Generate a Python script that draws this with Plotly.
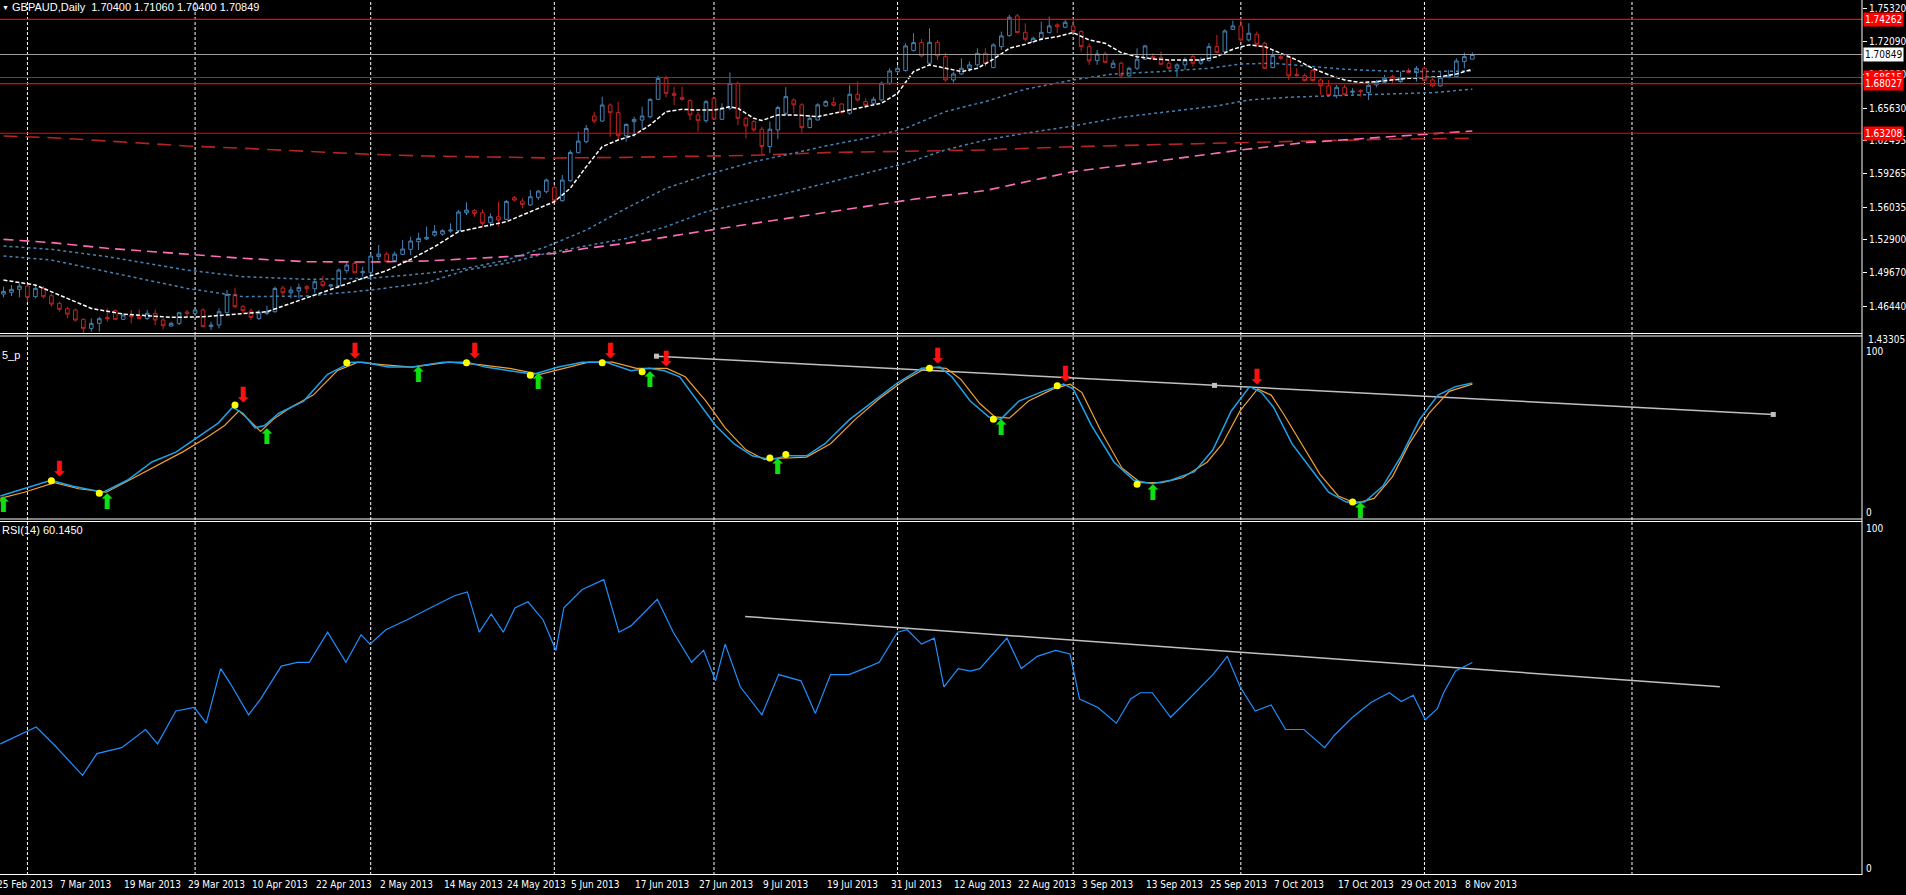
import plotly.graph_objects as go
import pandas as pd

# ---------------- categories ----------------
all_days = pd.bdate_range("2013-02-25", "2013-11-11")   # trading days shown
FIRST_BAR = -4                                          # 25 Feb 2013 relative to 1 Mar 2013
bar_pos = [k + FIRST_BAR for k in range(len(all_days))]
candle_x = bar_pos[1:]                                  # candles from 26 Feb 2013

# ---------------- OHLC (GBPAUD daily) ----------------
opens = [1.4761, 1.4778, 1.4807, 1.4839, 1.4736, 1.4816, 1.4745, 1.4671, 1.4619, 1.4607, 1.4516, 1.4428, 1.4477,
         1.4535, 1.4600, 1.4516, 1.4555, 1.4548, 1.4525, 1.4574, 1.4509, 1.4451, 1.4477,
         1.4587, 1.4574, 1.4607, 1.4445, 1.4461, 1.4580, 1.4758, 1.4639, 1.4597, 1.4525,
         1.4574, 1.4590, 1.4820, 1.4774, 1.4791, 1.4833, 1.4813, 1.4881, 1.4839, 1.4842,
         1.4988, 1.5059, 1.4968, 1.4972, 1.5124, 1.5149, 1.5085, 1.5146, 1.5195, 1.5269,
         1.5295, 1.5334, 1.5343, 1.5372, 1.5376, 1.5550, 1.5570, 1.5550, 1.5453, 1.5511,
         1.5486, 1.5696, 1.5663, 1.5625, 1.5699, 1.5754, 1.5796, 1.5667, 1.5861, 1.6132,
         1.6239, 1.6488, 1.6439, 1.6595, 1.6523, 1.6297, 1.6433, 1.6449, 1.6481, 1.6650,
         1.6853, 1.6708, 1.6669, 1.6637, 1.6498, 1.6443, 1.6660, 1.6456, 1.6562, 1.6805,
         1.6466, 1.6434, 1.6360, 1.6192, 1.6353, 1.6515, 1.6644, 1.6596, 1.6376, 1.6450,
         1.6586, 1.6618, 1.6605, 1.6515, 1.6699, 1.6628, 1.6612, 1.6644, 1.6806, 1.6919,
         1.6929, 1.7123, 1.7200, 1.7000, 1.7203, 1.7064, 1.6838, 1.6896, 1.6951, 1.6984,
         1.7097, 1.6958, 1.7161, 1.7268, 1.7459, 1.7300, 1.7210, 1.7242, 1.7297, 1.7372,
         1.7349, 1.7362, 1.7307, 1.7161, 1.7026, 1.7090, 1.6958, 1.7000, 1.6877, 1.6951,
         1.7039, 1.7064, 1.7055, 1.7000, 1.6951, 1.6984, 1.7064, 1.7000, 1.7026, 1.7161,
         1.7113, 1.7329, 1.7362, 1.7226, 1.7281, 1.7194, 1.6958, 1.7064, 1.7058, 1.6890,
         1.6880, 1.6929, 1.6838, 1.6780, 1.6686, 1.6767, 1.6719, 1.6735, 1.6715, 1.6790,
         1.6815, 1.6870, 1.6822, 1.6929, 1.6909, 1.6951, 1.6838, 1.6780, 1.6864, 1.6870,
         1.7016, 1.70400]
highs = [1.4833, 1.4849, 1.4865, 1.4858, 1.4849, 1.4839, 1.4768, 1.4687, 1.4639, 1.4622, 1.4525, 1.4525, 1.4541,
         1.4622, 1.4613, 1.4574, 1.4607, 1.4613, 1.4607, 1.4613, 1.4525, 1.4493, 1.4590,
         1.4607, 1.4622, 1.4622, 1.4493, 1.4622, 1.4800, 1.4823, 1.4655, 1.4622, 1.4607,
         1.4648, 1.4833, 1.4842, 1.4833, 1.4865, 1.4849, 1.4897, 1.4936, 1.4858, 1.5010,
         1.5075, 1.5075, 1.5027, 1.5156, 1.5237, 1.5172, 1.5172, 1.5285, 1.5318, 1.5356,
         1.5415, 1.5431, 1.5389, 1.5447, 1.5576, 1.5651, 1.5586, 1.5583, 1.5544, 1.5657,
         1.5673, 1.5712, 1.5689, 1.5770, 1.5770, 1.5883, 1.5819, 1.5916, 1.6158, 1.6336,
         1.6401, 1.6530, 1.6675, 1.6611, 1.6627, 1.6417, 1.6481, 1.6578, 1.6660, 1.6879,
         1.6879, 1.6772, 1.6772, 1.6650, 1.6530, 1.6643, 1.6669, 1.6611, 1.6911, 1.6821,
         1.6482, 1.6450, 1.6385, 1.6434, 1.6586, 1.6767, 1.6660, 1.6612, 1.6499, 1.6612,
         1.6644, 1.6670, 1.6612, 1.6790, 1.6822, 1.6660, 1.6676, 1.6822, 1.6951, 1.6983,
         1.7194, 1.7291, 1.7233, 1.7339, 1.7226, 1.7097, 1.6919, 1.7048, 1.7016, 1.7145,
         1.7145, 1.7194, 1.7307, 1.7468, 1.7478, 1.7388, 1.7258, 1.7404, 1.7452, 1.7388,
         1.7420, 1.7420, 1.7323, 1.7194, 1.7129, 1.7113, 1.7032, 1.7016, 1.6967, 1.7145,
         1.7178, 1.7097, 1.7113, 1.7032, 1.7000, 1.7058, 1.7081, 1.7058, 1.7194, 1.7275,
         1.7330, 1.7414, 1.7420, 1.7388, 1.7307, 1.7210, 1.7129, 1.7081, 1.7064, 1.6951,
         1.6903, 1.6942, 1.6854, 1.6838, 1.6790, 1.6790, 1.6757, 1.6748, 1.6822, 1.6838,
         1.6887, 1.6887, 1.6919, 1.6951, 1.6974, 1.6967, 1.6854, 1.6919, 1.6935, 1.7048,
         1.7103, 1.71060]
lows = [1.4729, 1.4742, 1.4729, 1.4687, 1.4719, 1.4719, 1.4639, 1.4590, 1.4525, 1.4493, 1.4380, 1.4396, 1.4396,
        1.4493, 1.4509, 1.4509, 1.4477, 1.4516, 1.4509, 1.4461, 1.4419, 1.4445, 1.4461,
        1.4548, 1.4548, 1.4438, 1.4412, 1.4428, 1.4574, 1.4622, 1.4574, 1.4509, 1.4509,
        1.4558, 1.4580, 1.4752, 1.4719, 1.4719, 1.4768, 1.4768, 1.4833, 1.4816, 1.4833,
        1.4962, 1.4962, 1.4930, 1.4897, 1.5091, 1.5069, 1.5075, 1.5140, 1.5140, 1.5188,
        1.5285, 1.5318, 1.5327, 1.5356, 1.5366, 1.5528, 1.5511, 1.5415, 1.5415, 1.5415,
        1.5479, 1.5657, 1.5592, 1.5615, 1.5673, 1.5738, 1.5657, 1.5657, 1.5851, 1.6126,
        1.6223, 1.6417, 1.6433, 1.6287, 1.6255, 1.6239, 1.6287, 1.6352, 1.6465, 1.6643,
        1.6669, 1.6595, 1.6637, 1.6449, 1.6336, 1.6423, 1.6449, 1.6449, 1.6546, 1.6401,
        1.6271, 1.6337, 1.6111, 1.6127, 1.6263, 1.6499, 1.6515, 1.6327, 1.6369, 1.6444,
        1.6579, 1.6579, 1.6515, 1.6499, 1.6628, 1.6563, 1.6596, 1.6628, 1.6790, 1.6890,
        1.6919, 1.7113, 1.7058, 1.6984, 1.7032, 1.6822, 1.6812, 1.6887, 1.6919, 1.6967,
        1.6967, 1.6951, 1.7129, 1.7258, 1.7291, 1.7210, 1.7194, 1.7226, 1.7291, 1.7291,
        1.7339, 1.7291, 1.7113, 1.6984, 1.6984, 1.6999, 1.6951, 1.6870, 1.6870, 1.6935,
        1.7032, 1.7032, 1.6984, 1.6935, 1.6864, 1.6935, 1.6967, 1.6984, 1.7016, 1.7097,
        1.7097, 1.7323, 1.7210, 1.7210, 1.7161, 1.6942, 1.6951, 1.7032, 1.6838, 1.6870,
        1.6822, 1.6822, 1.6693, 1.6676, 1.6660, 1.6686, 1.6693, 1.6676, 1.6644, 1.6767,
        1.6806, 1.6812, 1.6812, 1.6903, 1.6822, 1.6822, 1.6767, 1.6773, 1.6854, 1.6864,
        1.6951, 1.70400]
closes = [1.4787, 1.4807, 1.4839, 1.4729, 1.4816, 1.4736, 1.4664, 1.4613, 1.4567, 1.4509, 1.4428, 1.4477, 1.4522,
          1.4522, 1.4516, 1.4558, 1.4542, 1.4525, 1.4574, 1.4509, 1.4454, 1.4477, 1.4580,
          1.4574, 1.4607, 1.4445, 1.4461, 1.4590, 1.4758, 1.4639, 1.4600, 1.4535, 1.4580,
          1.4590, 1.4816, 1.4774, 1.4800, 1.4826, 1.4813, 1.4881, 1.4842, 1.4849, 1.4994,
          1.5043, 1.4968, 1.4978, 1.5130, 1.5149, 1.5075, 1.5149, 1.5198, 1.5276, 1.5301,
          1.5311, 1.5369, 1.5376, 1.5382, 1.5557, 1.5576, 1.5544, 1.5447, 1.5511, 1.5479,
          1.5660, 1.5673, 1.5631, 1.5705, 1.5760, 1.5867, 1.5667, 1.5867, 1.6135, 1.6245,
          1.6368, 1.6439, 1.6595, 1.6520, 1.6297, 1.6407, 1.6456, 1.6488, 1.6650, 1.6853,
          1.6708, 1.6688, 1.6650, 1.6498, 1.6443, 1.6627, 1.6459, 1.6562, 1.6805, 1.6466,
          1.6392, 1.6353, 1.6192, 1.6360, 1.6570, 1.6676, 1.6596, 1.6376, 1.6466, 1.6596,
          1.6628, 1.6592, 1.6521, 1.6699, 1.6644, 1.6592, 1.6651, 1.6806, 1.6925, 1.6951,
          1.7168, 1.7200, 1.7071, 1.7203, 1.7071, 1.6838, 1.6896, 1.6951, 1.6984, 1.7097,
          1.7000, 1.7178, 1.7265, 1.7446, 1.7297, 1.7233, 1.7242, 1.7300, 1.7362, 1.7355,
          1.7397, 1.7307, 1.7161, 1.7022, 1.7090, 1.7009, 1.7000, 1.6877, 1.6951, 1.7039,
          1.7168, 1.7048, 1.6990, 1.6951, 1.6984, 1.7032, 1.7000, 1.7032, 1.7161, 1.7106,
          1.7313, 1.7362, 1.7226, 1.7291, 1.7184, 1.6951, 1.7074, 1.7048, 1.6877, 1.6880,
          1.6832, 1.6832, 1.6780, 1.6686, 1.6767, 1.6693, 1.6728, 1.6728, 1.6786, 1.6822,
          1.6854, 1.6838, 1.6848, 1.6909, 1.6951, 1.6832, 1.6780, 1.6864, 1.6877, 1.7022,
          1.7064, 1.70849]

# ---------------- moving averages (read at bar positions) ----------------
ma_fast_x = [-3, 1, 5, 8, 12, 18, 22, 27, 30, 33, 36, 39, 42, 45, 48, 51, 54, 57, 60, 63, 66, 68, 70, 72, 74, 76,
             78, 80, 82, 84, 86, 88, 89, 91, 92, 94, 96, 99, 102, 105, 107, 109, 111, 113, 115, 117, 119, 121, 123,
             125, 127, 129, 131, 133, 135, 137, 139, 141, 143, 145, 147, 149, 151, 153, 155, 157, 159, 161, 163,
             165, 167, 169, 171, 173, 175, 177, 179, 181]
ma_fast_y = [1.4897, 1.4849, 1.4719, 1.4622, 1.4567, 1.4535, 1.4541, 1.4574, 1.4590, 1.4671, 1.4752, 1.4839, 1.4914,
             1.4988, 1.5098, 1.5221, 1.5366, 1.5415, 1.5463, 1.5560, 1.5657, 1.5787, 1.5997, 1.6191, 1.6255, 1.6304,
             1.6401, 1.6530, 1.6553, 1.6546, 1.6546, 1.6578, 1.6563, 1.6466, 1.6444, 1.6499, 1.6499, 1.6482, 1.6531,
             1.6579, 1.6612, 1.6709, 1.6919, 1.6984, 1.6951, 1.6919, 1.6951, 1.7039, 1.7145, 1.7184, 1.7233, 1.7258,
             1.7297, 1.7226, 1.7194, 1.7103, 1.7064, 1.7042, 1.7032, 1.7032, 1.7032, 1.7064, 1.7136, 1.7178, 1.7161,
             1.7097, 1.7032, 1.6951, 1.6887, 1.6838, 1.6812, 1.6822, 1.6838, 1.6854, 1.6861, 1.6870, 1.6896, 1.6942]
ma_mid_x = [-3, 3, 10, 20, 27, 35, 43, 50, 55, 60, 65, 70, 75, 80, 85, 91, 95, 100, 105, 110, 115, 120, 125, 131,
            136, 142, 148, 152, 156, 160, 165, 170, 175, 181]
ma_mid_y = [1.5227, 1.5195, 1.5124, 1.4994, 1.4930, 1.4904, 1.4914, 1.4962, 1.5011, 1.5091, 1.5221, 1.5382, 1.5593,
            1.5787, 1.5916, 1.6045, 1.6111, 1.6198, 1.6272, 1.6369, 1.6531, 1.6628, 1.6748, 1.6838, 1.6896, 1.6919,
            1.6951, 1.6993, 1.7000, 1.6974, 1.6942, 1.6925, 1.6919, 1.6925]
ma_slow_x = [-3, 3, 10, 20, 27, 35, 43, 50, 55, 60, 65, 70, 75, 80, 85, 91, 95, 100, 105, 110, 115, 120, 125, 131,
             137, 143, 149, 153, 158, 164, 170, 176, 181]
ma_slow_y = [1.5130, 1.5091, 1.4978, 1.4816, 1.4736, 1.4742, 1.4800, 1.4871, 1.4994, 1.5059, 1.5156, 1.5227, 1.5301,
             1.5415, 1.5560, 1.5670, 1.5739, 1.5836, 1.5933, 1.6030, 1.6159, 1.6256, 1.6321, 1.6392, 1.6476, 1.6531,
             1.6586, 1.6644, 1.6670, 1.6686, 1.6699, 1.6715, 1.6748]
ma_pink_x = [-3, 3, 10, 20, 27, 35, 43, 50, 55, 60, 66, 70, 75, 80, 85, 91, 111, 120, 131, 140, 152, 160, 170, 176, 181]
ma_pink_y = [1.5292, 1.5260, 1.5205, 1.5150, 1.5108, 1.5075, 1.5072, 1.5082, 1.5101, 1.5124, 1.5156, 1.5205, 1.5253,
             1.5318, 1.5376, 1.5447, 1.5681, 1.5765, 1.5949, 1.6036, 1.6159, 1.6230, 1.6282, 1.6314, 1.6343]
ma_red_x = [-3, 3, 10, 20, 27, 35, 43, 50, 60, 66, 75, 85, 91, 100, 110, 120, 131, 140, 150, 160, 170, 181]
ma_red_y = [1.6294, 1.6278, 1.6246, 1.6197, 1.6175, 1.6142, 1.6116, 1.6100, 1.6084, 1.6081, 1.6087, 1.6097, 1.6107,
            1.6133, 1.6143, 1.6159, 1.6191, 1.6208, 1.6230, 1.6246, 1.6263, 1.6272]

# ---------------- price levels / ticks ----------------
red_levels = [1.74262, 1.68615, 1.68027, 1.63208]
bid_price = 1.70849
price_ticks = [1.75320, 1.72090, 1.68860, 1.65630, 1.62495, 1.59265, 1.56035, 1.52900, 1.49670, 1.46440]
price_tick_low = 1.43305

# ---------------- stochastic ----------------
stoch_k_x = [-3.4, -0.4, 2.95, 5.7, 9.5, 12.5, 15.6, 18.6, 21.6, 23.9, 25.7, 27.0, 28.5, 29.7, 31.5, 34.6, 37.6,
             40.6, 42.1, 45.2, 48.2, 52.0, 55.1, 57.4, 60.4, 63.4, 66.5, 69.5, 72.5, 75.6, 77.9, 79.8, 81.7, 83.9,
             86.2, 88.5, 90.8, 93.1, 95.3, 97.6, 99.9, 103, 106, 109, 112, 114.3, 115.8, 118.1, 120.4, 121.9, 124.2,
             127.2, 129.8, 131.0, 133.3, 136.1, 138.6, 140.9, 143.2, 146.2, 148.5, 150.8, 153.1, 154.6, 156.1,
             158.4, 160.7, 163.0, 165.2, 167.5, 169.8, 172.1, 174.4, 176.7, 178.9, 181]
stoch_k_y = [11.4, 15.5, 20.3, 16.9, 13.5, 20.3, 30.7, 36.3, 45.9, 52.8, 61.8, 58.4, 50.1, 51.4, 58.4, 65.3, 80.5,
             87.4, 87.4, 84.6, 84.6, 87.4, 87.4, 84.6, 82.5, 80.5, 84.6, 87.4, 87.4, 82.5, 83.9, 82.5, 79.1, 65.3,
             51.4, 41.1, 34.2, 32.1, 34.2, 34.2, 41.1, 54.9, 65.3, 75.6, 83.9, 84.6, 79.1, 65.3, 56.3, 54.9, 65.3,
             70.8, 74.9, 72.2, 51.4, 30.7, 20.3, 18.3, 20.3, 25.2, 37.6, 59.7, 73.5, 70.1, 61.8, 41.1, 27.3, 13.5,
             7.9, 7.9, 17.0, 34.2, 54.9, 68.7, 73.5, 75.6]
stoch_d_x = [-3.4, -0.4, 3.4, 6.4, 9.9, 13.3, 16.3, 19.4, 22.4, 24.7, 26.5, 27.7, 29.2, 30.8, 33.0, 35.8, 38.8,
             41.4, 44.4, 48.2, 52.8, 56.6, 60.4, 64.2, 67.2, 70.3, 73.3, 76.3, 80.1, 82.4, 85.0, 87.4, 90.0, 92.3,
             94.6, 97.6, 100.6, 103.7, 106.7, 109.8, 112.8, 115.1, 116.9, 119.3, 121.2, 123.0, 125.4, 128.5, 130.6,
             132.1, 134.5, 137.1, 139.4, 142.1, 144.7, 147.8, 149.7, 151.9, 154.1, 155.8, 157.3, 159.6, 161.9,
             164.2, 166.4, 168.7, 171.0, 173.1, 175.6, 178.1, 181]
stoch_d_y = [10.0, 13.5, 19.0, 15.5, 13.5, 21.7, 29.3, 36.3, 44.5, 51.4, 59.7, 54.9, 48.0, 54.9, 61.8, 68.7, 82.5,
             87.4, 86.0, 84.6, 87.4, 86.0, 83.9, 80.5, 83.9, 87.4, 87.4, 83.9, 83.9, 79.1, 65.3, 50.1, 37.6, 32.1,
             32.8, 33.5, 41.1, 54.9, 66.6, 77.0, 84.6, 83.9, 77.7, 63.9, 56.3, 55.6, 65.3, 72.2, 74.9, 70.1, 48.0,
             27.3, 19.0, 19.0, 21.7, 30.7, 41.1, 59.7, 72.2, 68.7, 58.4, 41.1, 23.8, 11.4, 7.2, 10.0, 22.4, 41.1,
             58.4, 70.8, 74.9]
sell_x = [4, 27, 41, 56, 73, 80, 114, 130, 154]
sell_y = [20, 62, 87, 87, 87, 82, 84, 74, 72]
buy_x = [-3, 10, 30, 49, 64, 78, 94, 122, 141, 167]
buy_y = [11, 13, 50, 85, 81, 82, 33, 55, 18, 8]
dot_x = [3, 9, 26, 40, 55, 63, 72, 77, 93, 95, 113, 121, 129, 139, 166]
dot_y = [20, 13, 63, 87, 87, 80, 87, 82, 33, 35, 84, 55, 74, 18, 8]
stoch_trend_x = [78.8, 148.7, 218.7]
stoch_trend_y = [90.8, 74.2, 57.7]

# ---------------- RSI(14) ----------------
rsi_x = [-3.4, 1.1, 3.4, 6.9, 8.7, 11.8, 14.8, 16.3, 18.6, 20.9, 22.4, 24.2, 25.4, 27.7, 29.2, 31.8, 33.8, 35.3,
         37.6, 39.9, 41.8, 42.9, 44.9, 47.5, 50.5, 53.5, 55.1, 56.6, 58.1, 59.6, 61.1, 62.7, 64.6, 66.2, 67.2, 69.5,
         72.2, 74.1, 75.6, 77.1, 78.9, 80.9, 83.2, 84.7, 86.2, 87.4, 89.3, 92.0, 94.1, 96.9, 98.7, 100.6, 102.9,
         104.8, 106.7, 109.0, 110.2, 112.0, 113.6, 114.8, 116.6, 118.1, 119.3, 122.7, 124.5, 126.5, 128.8, 130.6,
         131.8, 134.1, 136.4, 138.2, 139.4, 140.9, 143.2, 145.5, 147.0, 148.5, 150.3, 151.9, 153.8, 155.8, 157.6,
         159.9, 162.5, 163.7, 166.0, 168.3, 170.6, 172.1, 173.6, 175.1, 176.6, 177.4, 178.9, 181]
rsi_y = [36.9, 41.7, 36.5, 27.9, 34.1, 35.8, 41.0, 36.9, 46.3, 47.3, 42.8, 58.4, 54.2, 45.2, 49.7, 59.1, 60.2, 60.2,
         68.8, 60.2, 68.1, 65.4, 69.5, 72.3, 75.8, 79.2, 80.3, 68.8, 74.0, 68.8, 75.8, 77.5, 72.3, 63.6, 75.8, 81.0,
         83.8, 68.8, 70.6, 74.0, 78.2, 68.8, 60.2, 63.6, 54.9, 65.4, 53.2, 45.2, 56.7, 54.9, 45.6, 56.7, 56.7, 58.4,
         60.2, 68.8, 69.5, 65.4, 67.1, 53.2, 58.4, 57.7, 58.4, 67.1, 58.4, 61.9, 63.6, 62.6, 49.7, 47.3, 42.8, 49.7,
         51.5, 51.5, 44.5, 49.7, 53.2, 56.7, 61.9, 53.2, 46.3, 48.0, 41.0, 41.0, 35.8, 39.3, 44.5, 48.7, 51.5, 49.0,
         50.8, 43.8, 46.9, 51.5, 57.7, 60.145]
rsi_trend_x = [89.9, 212.0]
rsi_trend_y = [73.3, 53.2]

# ---------------- time-axis labels ----------------
date_labels = ["25 Feb 2013", "7 Mar 2013", "19 Mar 2013", "29 Mar 2013", "10 Apr 2013", "22 Apr 2013",
               "2 May 2013", "14 May 2013", "24 May 2013", "5 Jun 2013", "17 Jun 2013", "27 Jun 2013",
               "9 Jul 2013", "19 Jul 2013", "31 Jul 2013", "12 Aug 2013", "22 Aug 2013", "3 Sep 2013",
               "13 Sep 2013", "25 Sep 2013", "7 Oct 2013", "17 Oct 2013", "29 Oct 2013", "8 Nov 2013"]
future_separator = "2013-12-01"

# ---------------- derived positions ----------------
day_list = list(all_days)
label_pos = [bar_pos[day_list.index(pd.to_datetime(s, format="%d %b %Y"))] for s in date_labels]
month_lines = [bar_pos[k] for k in range(1, len(day_list)) if day_list[k].month != day_list[k - 1].month]
month_lines.append(bar_pos[-1] + (pd.Timestamp(future_separator) - day_list[-1]).days)

# ---------------- layout geometry ----------------
W, H = 1906, 895
ML, MR, MT, MB = 0, 40, 0, 20
PH = H - MT - MB          # 875
PW = W - ML - MR          # 1866


def py(px):
    return 1 - px / PH


XR = [(0 - 27.5) / 8, (PW - 27.5) / 8]


def px_of_bar(b):
    return (b - XR[0]) / (XR[1] - XR[0])


FONT = "Liberation Sans Narrow, DejaVu Sans Condensed, Liberation Sans, Arial, sans-serif"
FONT2 = "Liberation Sans, DejaVu Sans, Arial, sans-serif"
BLUE = "#4682B4"
RED = "#C42222"

fig = go.Figure()

fig.add_trace(go.Candlestick(
    x=candle_x, open=opens, high=highs, low=lows, close=closes,
    increasing=dict(line=dict(color=BLUE, width=1), fillcolor="black"),
    decreasing=dict(line=dict(color=RED, width=1), fillcolor="black"),
    whiskerwidth=0, xaxis="x", yaxis="y", showlegend=False, hoverinfo="skip"))

fig.add_trace(go.Scatter(x=ma_red_x, y=ma_red_y, mode="lines", xaxis="x", yaxis="y",
                         line=dict(color="#B42424", width=1.6, dash="14px,8px"), showlegend=False))
fig.add_trace(go.Scatter(x=ma_pink_x, y=ma_pink_y, mode="lines", xaxis="x", yaxis="y",
                         line=dict(color="#FF6EB4", width=1.6, dash="10px,6px"), showlegend=False))
fig.add_trace(go.Scatter(x=ma_slow_x, y=ma_slow_y, mode="lines", xaxis="x", yaxis="y",
                         line=dict(color=BLUE, width=1.5, dash="3px,3px"), showlegend=False))
fig.add_trace(go.Scatter(x=ma_mid_x, y=ma_mid_y, mode="lines", xaxis="x", yaxis="y",
                         line=dict(color=BLUE, width=1.5, dash="3px,3px"), showlegend=False))
fig.add_trace(go.Scatter(x=ma_fast_x, y=ma_fast_y, mode="lines", xaxis="x", yaxis="y",
                         line=dict(color="white", width=1.5, dash="4px,2px"), showlegend=False))

# stochastic panel
fig.add_trace(go.Scatter(x=stoch_trend_x, y=stoch_trend_y, mode="lines+markers", xaxis="x2", yaxis="y2",
                         line=dict(color="#C0C0C0", width=1.5),
                         marker=dict(symbol="square", size=5, color="#C0C0C0"), showlegend=False))
fig.add_trace(go.Scatter(x=stoch_d_x, y=stoch_d_y, mode="lines", xaxis="x2", yaxis="y2",
                         line=dict(color="#F0A030", width=1.2), showlegend=False))
fig.add_trace(go.Scatter(x=stoch_k_x, y=stoch_k_y, mode="lines", xaxis="x2", yaxis="y2",
                         line=dict(color="#1FA2E8", width=1.5), showlegend=False))
fig.add_trace(go.Scatter(x=dot_x, y=dot_y, mode="markers", xaxis="x2", yaxis="y2",
                         marker=dict(color="#FFFF00", size=7), showlegend=False))
fig.add_trace(go.Scatter(x=sell_x, y=sell_y, mode="text", xaxis="x2", yaxis="y2", text=["\u2B07"] * len(sell_x),
                         textposition="top center",
                         textfont=dict(color="#FF1010", size=21, family="DejaVu Sans"), showlegend=False))
fig.add_trace(go.Scatter(x=buy_x, y=buy_y, mode="text", xaxis="x2", yaxis="y2", text=["\u2B06"] * len(buy_x),
                         textposition="bottom center",
                         textfont=dict(color="#10E010", size=21, family="DejaVu Sans"), showlegend=False))

# RSI panel
fig.add_trace(go.Scatter(x=rsi_trend_x, y=rsi_trend_y, mode="lines", xaxis="x3", yaxis="y3",
                         line=dict(color="#C0C0C0", width=1.5), showlegend=False))
fig.add_trace(go.Scatter(x=rsi_x, y=rsi_y, mode="lines", xaxis="x3", yaxis="y3",
                         line=dict(color="#1E90FF", width=1.2), showlegend=False))

shapes = []
for m in month_lines:
    shapes.append(dict(type="line", xref="x", yref="paper", x0=m, x1=m, y0=0, y1=1, layer="below",
                       line=dict(color="white", width=1, dash="3px,2px")))
for lv in red_levels:
    shapes.append(dict(type="line", xref="paper", yref="y", x0=0, x1=1, y0=lv, y1=lv,
                       line=dict(color="#FF0000", width=1.2)))
shapes.append(dict(type="line", xref="paper", yref="y", x0=0, x1=1, y0=bid_price, y1=bid_price,
                   line=dict(color="#A0A0A0", width=1)))
for pxl in [333.5, 336, 519, 521.5, 874.5]:
    shapes.append(dict(type="line", xref="paper", yref="paper", x0=0, x1=1, y0=py(pxl), y1=py(pxl),
                       line=dict(color="white", width=1)))
shapes.append(dict(type="line", xref="paper", yref="paper", x0=1, x1=1, y0=0, y1=1,
                   line=dict(color="white", width=1)))

annotations = []
annotations.append(dict(xref="paper", yref="paper", x=0, y=1, xanchor="left", yanchor="top", showarrow=False,
                        text="\u25BC", font=dict(color="white", size=7, family=FONT2), yshift=-2))
annotations.append(dict(xref="paper", yref="paper", x=10 / PW, y=1, xanchor="left", yanchor="top",
                        showarrow=False, text="GBPAUD,Daily  1.70400 1.71060 1.70400 1.70849",
                        font=dict(color="white", size=11, family=FONT2), yshift=1))
annotations.append(dict(xref="paper", yref="paper", x=0, y=py(347), xanchor="left", yanchor="top",
                        showarrow=False, text="5_p", font=dict(color="white", size=11, family=FONT2)))
annotations.append(dict(xref="paper", yref="paper", x=0, y=py(522), xanchor="left", yanchor="top",
                        showarrow=False, text="RSI(14) 60.1450", font=dict(color="white", size=11, family=FONT2)))
for lv in red_levels:
    annotations.append(dict(xref="paper", yref="y", x=1, y=lv, xanchor="left", yanchor="middle", showarrow=False,
                            text=f"{lv:.5f}", bgcolor="#FF0000", borderpad=1, xshift=1,
                            font=dict(color="white", size=10, family=FONT)))
annotations.append(dict(xref="paper", yref="y", x=1, y=bid_price, xanchor="left", yanchor="middle",
                        showarrow=False, text=f"{bid_price:.5f}", bgcolor="white", borderpad=1, xshift=1,
                        font=dict(color="black", size=10, family=FONT)))
annotations.append(dict(xref="paper", yref="paper", x=1, y=py(339), xanchor="left", yanchor="middle",
                        showarrow=False, text=f"{price_tick_low:.5f}", xshift=4,
                        font=dict(color="white", size=10, family=FONT)))
for txt, pxl in [("100", 351), ("0", 512), ("100", 528), ("0", 868)]:
    annotations.append(dict(xref="paper", yref="paper", x=1, y=py(pxl), xanchor="left", yanchor="middle",
                            showarrow=False, text=txt, xshift=2, font=dict(color="white", size=10, family=FONT)))
for lbl, pos in zip(date_labels, label_pos):
    annotations.append(dict(xref="paper", yref="paper", x=px_of_bar(pos), y=0, xanchor="left", yanchor="top",
                            showarrow=False, text=lbl, yshift=-2, xshift=-1,
                            font=dict(color="white", size=10, family=FONT)))

axis_common = dict(range=XR, showticklabels=False, showgrid=False, zeroline=False, showline=False,
                   fixedrange=True)
fig.update_layout(
    width=W, height=H,
    margin=dict(l=ML, r=MR, t=MT, b=MB, pad=0),
    paper_bgcolor="black", plot_bgcolor="black",
    showlegend=False,
    xaxis=dict(domain=[0, 1], anchor="y", rangeslider=dict(visible=False), **axis_common),
    xaxis2=dict(domain=[0, 1], anchor="y2", matches="x", **axis_common),
    xaxis3=dict(domain=[0, 1], anchor="y3", matches="x", **axis_common),
    yaxis=dict(domain=[py(334), 1], range=[1.74262 - (334 - 19.3) / 1031, 1.74262 + 19.3 / 1031],
               side="right", anchor="x", tickvals=price_ticks, ticktext=[f"{t:.5f}" for t in price_ticks],
               ticks="outside", ticklen=4, tickcolor="white", showgrid=False, zeroline=False,
               tickfont=dict(color="white", size=10, family=FONT), fixedrange=True),
    yaxis2=dict(domain=[py(519), py(337)], range=[-1.7, 101.7], anchor="x2", showticklabels=False,
                showgrid=False, zeroline=False, fixedrange=True),
    yaxis3=dict(domain=[0, py(521)], range=[-0.57, 100.57], anchor="x3", showticklabels=False,
                showgrid=False, zeroline=False, fixedrange=True),
    shapes=shapes, annotations=annotations,
    boxgap=0.35,
)

fig.write_html("out.html")
